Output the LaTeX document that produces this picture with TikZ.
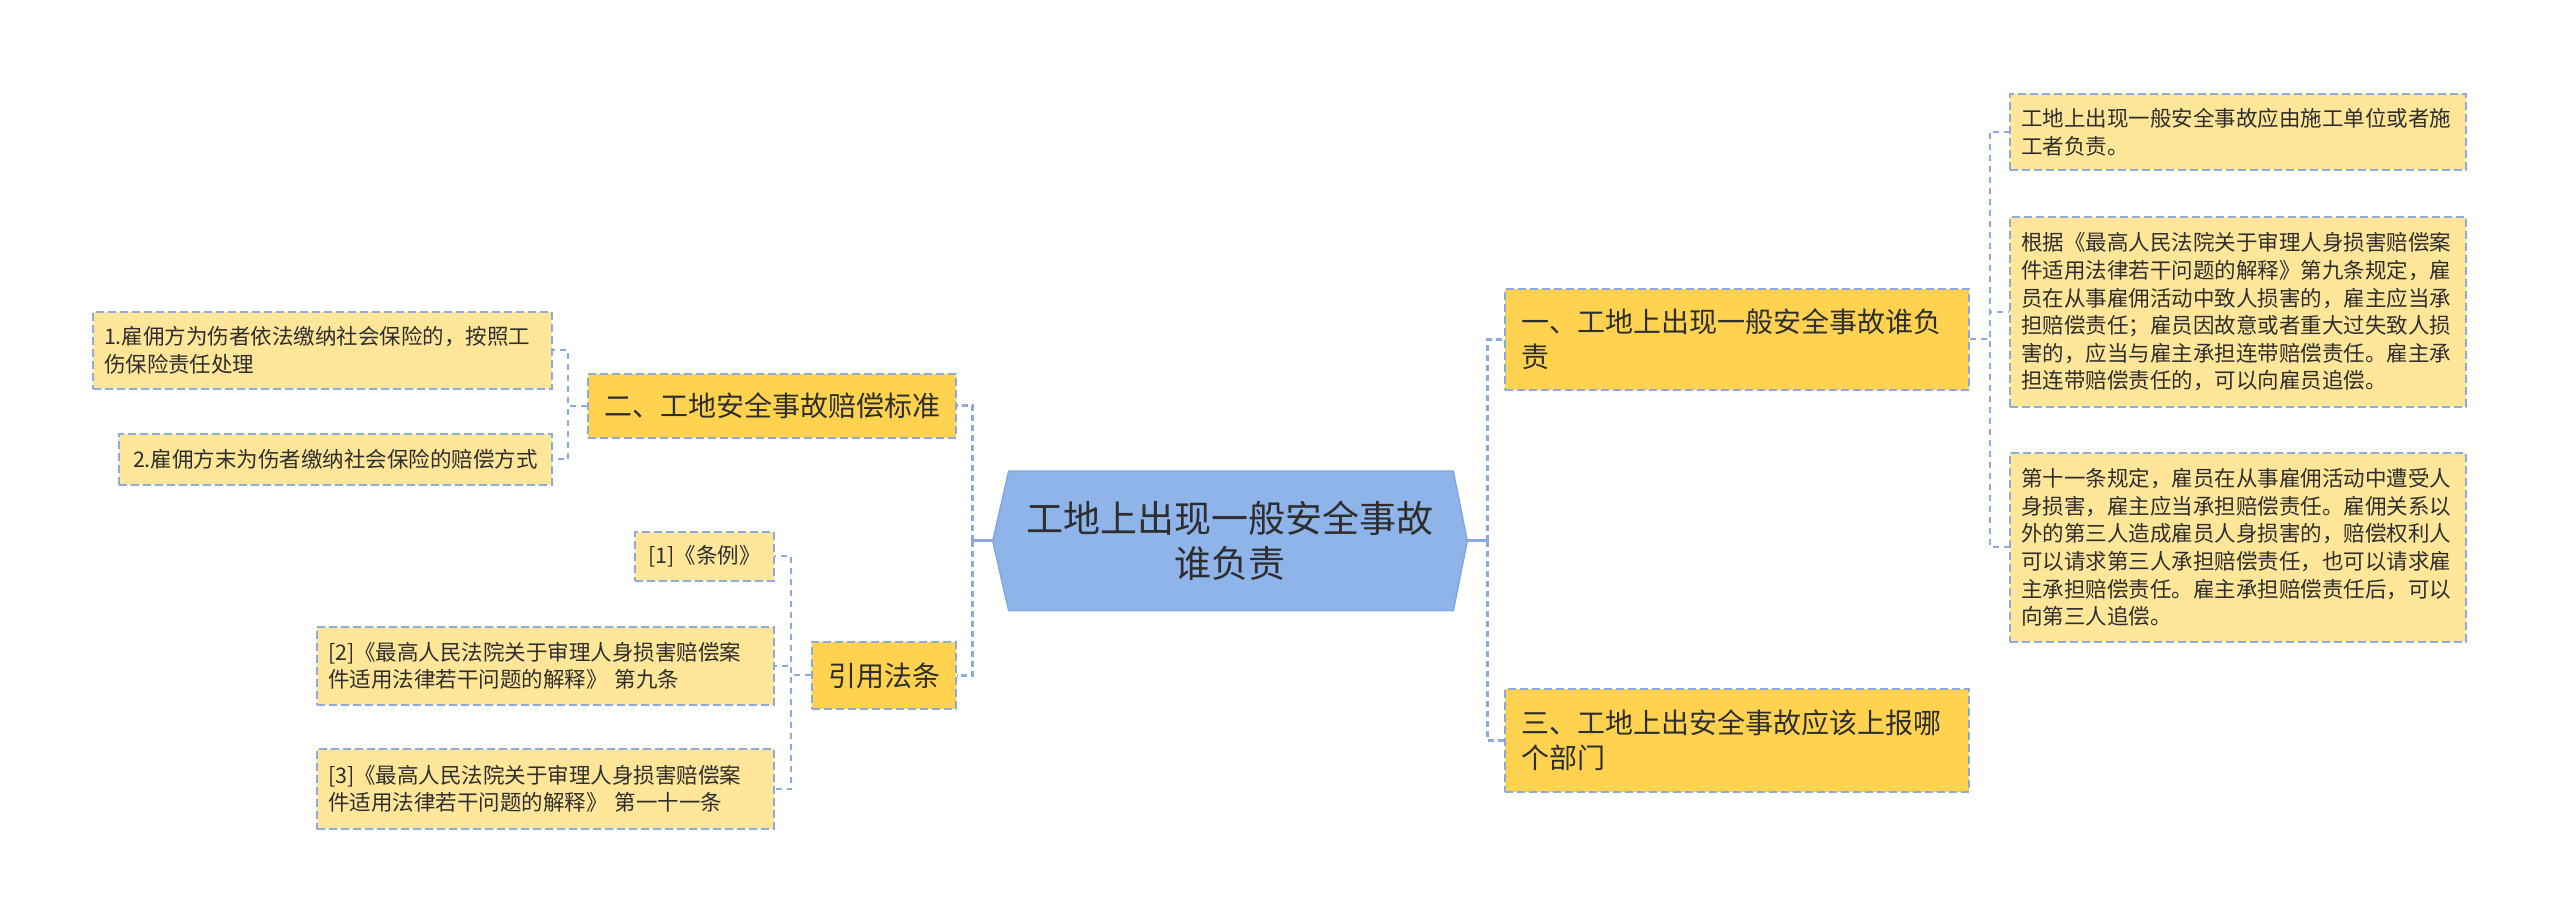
\documentclass[tikz,border=0pt]{standalone}
\usepackage{fontspec}
\setmainfont{Noto Sans CJK SC}
\usepackage{xcolor}
\usepackage{tikz}
\usetikzlibrary{calc,backgrounds}

\definecolor{rootfill}{HTML}{8FB4EA}
\definecolor{rootline}{HTML}{7FA3DF}
\definecolor{topicfill}{HTML}{FFD34F}
\definecolor{leaffill}{HTML}{FFE699}
\definecolor{edgeblue}{HTML}{8EAADC}
\definecolor{inkgray}{HTML}{2E2E2E}

\begin{document}
\begin{tikzpicture}[
        x=0.5pt, y=-0.5pt,
        every node/.style={inner ysep=0pt, text=inkgray},
        rootbox/.style={rectangle, align=center, minimum width=237pt, minimum height=69.5pt,
                        font=\fontsize{18.5pt}{22.5pt}\selectfont},
        rootshape/.style={fill=rootfill, draw=rootline, line width=0.6pt},
        topic/.style  ={rectangle, draw=edgeblue, fill=topicfill, line width=0.75pt,
                        dash pattern=on 4pt off 2pt, inner xsep=8pt,
                        font=\fontsize{14pt}{17.5pt}\selectfont},
        leaf/.style   ={rectangle, draw=edgeblue, fill=leaffill, line width=0.75pt,
                        dash pattern=on 4pt off 2pt, inner xsep=5.5pt,
                        font=\fontsize{10.75pt}{13.8pt}\selectfont},
        rootstub/.style={edgeblue, line width=1.5pt},
        rootlink/.style={edgeblue, line width=1.5pt, dash pattern=on 3pt off 2pt},
        sublink/.style ={edgeblue, line width=1pt, dash pattern=on 3pt off 2.5pt},
    ]
        \useasboundingbox (0,0) rectangle (2560,924);

        % ===================== Centro =====================
        \node[rootbox] (root) at (1230,541) {工地上出现一般安全事故\\谁负责};
        \begin{scope}[on background layer]
            \filldraw[rootshape] (root.west) -- ($(root.north west)+(16,0)$)
                -- ($(root.north east)+(-14,0)$) -- (root.east)
                -- ($(root.south east)+(-14,0)$) -- ($(root.south west)+(16,0)$) -- cycle;
        \end{scope}

        % ===================== Rama derecha =====================
        \node[topic, minimum width=232pt, minimum height=50.5pt, text width=216pt, align=left]
            (resp) at (1737,339.5) {一、工地上出现一般安全事故谁负\\责};
        \node[topic, minimum width=232pt, minimum height=51.5pt, text width=216pt, align=left]
            (report) at (1737,740.5) {三、工地上出安全事故应该上报哪\\个部门};

        \node[leaf, minimum width=228pt, minimum height=38pt, text width=217pt, align=left]
            (unit) at (2238,132) {工地上出现一般安全事故应由施工单位或者施\\工者负责。};
        \node[leaf, minimum width=228pt, minimum height=95pt, text width=217pt, align=left]
            (art9) at (2238,312) {根据《最高人民法院关于审理人身损害赔偿案\\件适用法律若干问题的解释》第九条规定，雇\\员在从事雇佣活动中致人损害的，雇主应当承\\担赔偿责任；雇员因故意或者重大过失致人损\\害的，应当与雇主承担连带赔偿责任。雇主承\\担连带赔偿责任的，可以向雇员追偿。};
        \node[leaf, minimum width=228pt, minimum height=94.5pt, text width=217pt, align=left]
            (art11) at (2238,547.5) {第十一条规定，雇员在从事雇佣活动中遭受人\\身损害，雇主应当承担赔偿责任。雇佣关系以\\外的第三人造成雇员人身损害的，赔偿权利人\\可以请求第三人承担赔偿责任，也可以请求雇\\主承担赔偿责任。雇主承担赔偿责任后，可以\\向第三人追偿。};

        % ===================== Rama izquierda =====================
        \node[topic, minimum width=183pt, minimum height=32pt, align=center]
            (std) at (772,406) {二、工地安全事故赔偿标准};
        \node[topic, minimum width=71pt, minimum height=33.5pt, align=center]
            (law) at (884,675.5) {引用法条};

        \node[leaf, minimum width=229.5pt, minimum height=38.5pt, text width=218.5pt, align=left]
            (insured) at (322.5,350.5) {1.雇佣方为伤者依法缴纳社会保险的，按照工\\伤保险责任处理};
        \node[leaf, minimum width=216.5pt, minimum height=25.5pt, align=center]
            (uninsured) at (335.5,459.5) {2.雇佣方末为伤者缴纳社会保险的赔偿方式};

        \node[leaf, minimum width=69.5pt, minimum height=24.5pt, align=center]
            (ref1) at (704.5,556.5) {[1]《条例》};
        \node[leaf, minimum width=228.5pt, minimum height=39pt, text width=217.5pt, align=left]
            (ref2) at (545.5,666) {[2]《最高人民法院关于审理人身损害赔偿案\\件适用法律若干问题的解释》 第九条};
        \node[leaf, minimum width=228.5pt, minimum height=40pt, text width=217.5pt, align=left]
            (ref3) at (545.5,789) {[3]《最高人民法院关于审理人身损害赔偿案\\件适用法律若干问题的解释》 第一十一条};

        % ===================== Conectores =====================
        \draw[rootstub] (root.east) -- ++(20,0) coordinate (rspine);
        \draw[rootlink] (rspine) |- (resp.west);
        \draw[rootlink] (rspine) |- (report.west);

        \draw[rootstub] (root.west) -- ++(-20,0) coordinate (lspine);
        \draw[rootlink] (lspine) |- (std.east);
        \draw[rootlink] (lspine) |- (law.east);

        \draw[sublink] (resp.east) -- ++(20,0) |- (unit.west);
        \draw[sublink] (resp.east) -- ++(20,0) |- (art9.west);
        \draw[sublink] (resp.east) -- ++(20,0) |- (art11.west);

        \draw[sublink] (std.west) -- ++(-19,0) |- (insured.east);
        \draw[sublink] (std.west) -- ++(-19,0) |- (uninsured.east);

        \draw[sublink] (law.west) -- ++(-20,0) |- (ref1.east);
        \draw[sublink] (law.west) -- ++(-20,0) |- (ref2.east);
        \draw[sublink] (law.west) -- ++(-20,0) |- (ref3.east);
    \end{tikzpicture}
\end{document}
